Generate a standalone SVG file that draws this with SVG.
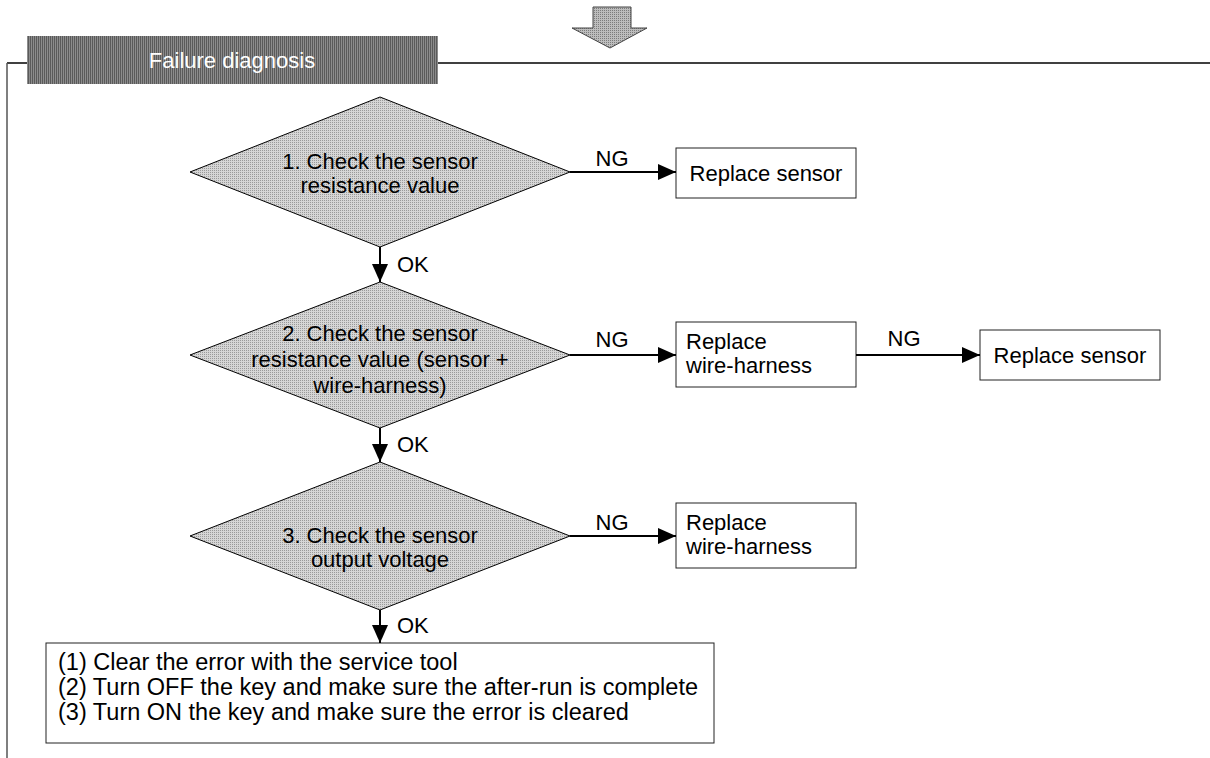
<svg xmlns="http://www.w3.org/2000/svg" width="1210" height="758" viewBox="0 0 1210 758">
  <defs>
    <!-- halftone-like fills -->
    <pattern id="dotLight" patternUnits="userSpaceOnUse" width="2" height="2">
      <rect width="2" height="2" fill="#d6d6d6"/>
      <rect width="1" height="1" fill="#9a9a9a"/>
    </pattern>
    <pattern id="dotDark" patternUnits="userSpaceOnUse" width="2" height="2">
      <rect width="2" height="2" fill="#8c8c8c"/>
      <rect width="1" height="2" fill="#5a5a5a"/>
    </pattern>
    <pattern id="dotMid" patternUnits="userSpaceOnUse" width="2" height="2">
      <rect width="2" height="2" fill="#bdbdbd"/>
      <rect width="1" height="1" fill="#7c7c7c"/>
    </pattern>
    <marker id="head" viewBox="0 0 18 16" refX="18" refY="8" markerWidth="18" markerHeight="16" markerUnits="userSpaceOnUse" orient="auto">
      <path d="M0,0 L18,8 L0,16 Z" fill="#000"/>
    </marker>
  </defs>
  <style>
    text { font-family: "Liberation Sans", Arial, sans-serif; font-size: 22px; fill: #000; }
    .mid { text-anchor: middle; }
    .hdr { fill: #fff; text-anchor: middle; }
    .steps { font-size: 23.5px; }
    .frame { stroke: #000; stroke-width: 1.5; fill: none; }
    .frame-side { stroke: #555; stroke-width: 1.5; fill: none; }
    .dia { fill: url(#dotLight); stroke: #000; stroke-width: 1; }
    .box { fill: #fff; stroke: #222; stroke-width: 1; }
    .flow { stroke: #000; stroke-width: 2; fill: none; marker-end: url(#head); }
  </style>

  <rect width="1210" height="758" fill="#fff"/>

  <!-- incoming block arrow -->
  <g id="entry-arrow">
    <polygon points="593,7 631,7 631,28 647,28 610,48 572,28 593,28" fill="url(#dotMid)" stroke="#444" stroke-width="1"/>
  </g>

  <!-- section frame -->
  <g id="frame">
    <line class="frame" x1="7" y1="63" x2="1210" y2="63"/>
    <line class="frame-side" x1="7" y1="63" x2="7" y2="758"/>
  </g>

  <g id="header">
    <rect x="27" y="36" width="411" height="48" fill="url(#dotDark)"/>
    <text class="hdr" x="232" y="68">Failure diagnosis</text>
  </g>

  <!-- decision steps -->
  <g id="check1">
    <polygon class="dia" points="380,97 570,172 380,247 190,172"/>
    <text class="mid" x="380" y="169">1. Check the sensor</text>
    <text class="mid" x="380" y="193">resistance value</text>
  </g>

  <g id="check2">
    <polygon class="dia" points="380,282 570,355 380,428 190,355"/>
    <text class="mid" x="380" y="341">2. Check the sensor</text>
    <text class="mid" x="380" y="367">resistance value (sensor +</text>
    <text class="mid" x="380" y="393">wire-harness)</text>
  </g>

  <g id="check3">
    <polygon class="dia" points="380,462 570,536 380,610 190,536"/>
    <text class="mid" x="380" y="543">3. Check the sensor</text>
    <text class="mid" x="380" y="567">output voltage</text>
  </g>

  <!-- corrective actions -->
  <g id="replace-sensor-1">
    <rect class="box" x="676" y="148" width="180" height="50"/>
    <text class="mid" x="766" y="181">Replace sensor</text>
  </g>

  <g id="replace-harness-1">
    <rect class="box" x="676" y="322" width="180" height="65"/>
    <text x="686" y="349">Replace</text>
    <text x="686" y="373">wire-harness</text>
  </g>

  <g id="replace-sensor-2">
    <rect class="box" x="980" y="330" width="180" height="50"/>
    <text class="mid" x="1070" y="363">Replace sensor</text>
  </g>

  <g id="replace-harness-2">
    <rect class="box" x="676" y="503" width="180" height="65"/>
    <text x="686" y="530">Replace</text>
    <text x="686" y="554">wire-harness</text>
  </g>

  <g id="reset-procedure">
    <rect class="box" x="46" y="643" width="668" height="100"/>
    <text class="steps" x="58" y="670">(1) Clear the error with the service tool</text>
    <text class="steps" x="58" y="695">(2) Turn OFF the key and make sure the after-run is complete</text>
    <text class="steps" x="58" y="720">(3) Turn ON the key and make sure the error is cleared</text>
  </g>

  <!-- connectors -->
  <g id="connectors">
    <line class="flow" x1="570" y1="172" x2="676" y2="172"/>
    <line class="flow" x1="380" y1="247" x2="380" y2="282"/>
    <line class="flow" x1="570" y1="355" x2="676" y2="355"/>
    <line class="flow" x1="856" y1="355" x2="980" y2="355"/>
    <line class="flow" x1="380" y1="428" x2="380" y2="462"/>
    <line class="flow" x1="570" y1="536" x2="676" y2="536"/>
    <line class="flow" x1="380" y1="610" x2="380" y2="643"/>
    <text class="mid" x="612" y="166">NG</text>
    <text x="397" y="272">OK</text>
    <text class="mid" x="612" y="347">NG</text>
    <text class="mid" x="904" y="346">NG</text>
    <text x="397" y="452">OK</text>
    <text class="mid" x="612" y="530">NG</text>
    <text x="397" y="633">OK</text>
  </g>
</svg>
